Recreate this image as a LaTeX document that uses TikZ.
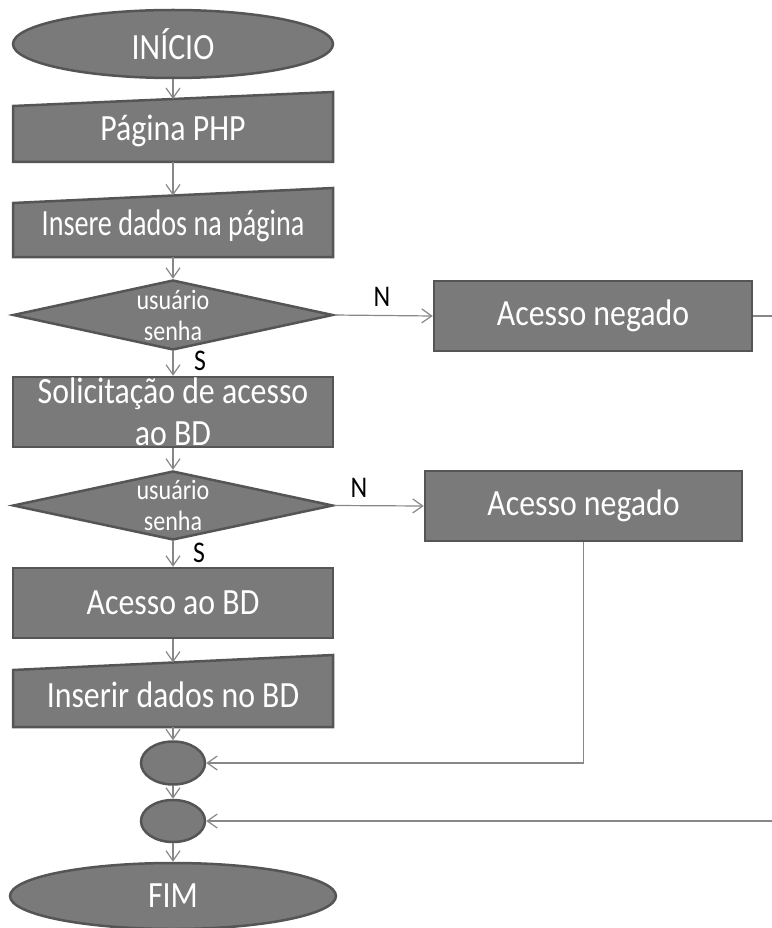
\documentclass[tikz,border=0pt]{standalone}
\usepackage{fontspec}
\setmainfont{Carlito}[FakeStretch=0.86]
\newfontfamily\narrowfont{Carlito}[FakeStretch=0.76]
\usetikzlibrary{shapes.geometric,arrows.meta,backgrounds}
\definecolor{boxfill}{RGB}{122,122,122}
\definecolor{boxline}{RGB}{85,85,85}
\definecolor{linegray}{RGB}{135,135,135}

\begin{document}
\begin{tikzpicture}[x=1pt,y=-1pt,
    box/.style={rectangle,draw=boxline,fill=boxfill,line width=2.5pt,text=white,align=center,
      minimum width=320pt,minimum height=70pt,inner sep=0pt,font=\fontsize{37}{42}\selectfont},
    term/.style={box,ellipse,minimum height=68pt},
    inbox/.style={box,draw=none,fill=none,outer sep=0pt},
    decision/.style={box,diamond,aspect=4.6,font=\fontsize{28}{31}\selectfont},
    circ/.style={box,ellipse,minimum width=64pt,minimum height=43pt},
    conn/.style={draw=linegray,line width=1.2pt,-{Straight Barb[length=10pt,width=14pt]}},
    yn/.style={inner sep=0pt,font=\fontsize{30}{30}\selectfont}]
  \useasboundingbox (0,0) rectangle (771,928);

  % main column
  \node[term] (inicio) at (173,44) {INÍCIO};
  \node[inbox,minimum height=63pt] (pag) at (173,130.5) {Página PHP};
  \node[inbox,minimum height=61.5pt,font=\narrowfont\fontsize{37}{42}\selectfont] (ins) at (173,226.25) {Insere dados na página};
  \node[decision] (d1) at (173,315) {usuário\\senha};
  \node[box] (sol) at (173,412) {Solicitação de acesso\\ao BD};
  \node[decision,minimum height=69pt] (d2) at (173,505.5) {usuário\\senha};
  \node[box] (acc) at (173,603) {Acesso ao BD};
  \node[inbox,minimum height=64.5pt] (insbd) at (173,694.75) {Inserir dados no BD};
  \node[circ] (c1) at (173,763) {};
  \node[circ,minimum height=42pt] (c2) at (173,821) {};
  \node[term,minimum width=326pt,minimum height=66pt] (fim) at (173,896) {FIM};

  % denied branches
  \node[box,minimum width=318pt] (neg1) at (593,316) {Acesso negado};
  \node[box,minimum width=317pt] (neg2) at (583.5,506) {Acesso negado};
  \coordinate (out1) at (800,316);

  \node[yn] (n1) at (382,297) {N};
  \node[yn] (s1) at (200,361) {S};
  \node[yn] (n2) at (359,488) {N};
  \node[yn] (s2) at (199,553) {S};

  \begin{scope}[on background layer]
    \foreach \n/\s in {pag/7,ins/7.5,insbd/7.5}
      \filldraw[draw=boxline,fill=boxfill,line width=2.5pt]
        (\n.south west) -- (\n.south east) -- ([yshift=\s pt]\n.north east)
        -- ([yshift=-\s pt]\n.north west) -- cycle;
  \end{scope}

  \draw[conn] (inicio.south) -- (pag.north);
  \draw[conn] (pag.south) -- (ins.north);
  \draw[conn] (ins.south) -- (d1.north);
  \draw[conn] (d1.south) -- (sol.north);
  \draw[conn] (sol.south) -- (d2.north);
  \draw[conn] (d2.south) -- (acc.north);
  \draw[conn] (acc.south) -- (insbd.north);
  \draw[conn] (insbd.south) -- (c1.north);
  \draw[conn] (c1.south) -- (c2.north);
  \draw[conn] (c2.south) -- (fim.north);
  \draw[conn] (d1.east) -- (neg1.west);
  \draw[conn] (d2.east) -- (neg2.west);
  \draw[conn] (neg2.south) |- (c1.east);
  \draw[conn] (neg1.east) -- (out1) |- (c2.east);
\end{tikzpicture}
\end{document}
